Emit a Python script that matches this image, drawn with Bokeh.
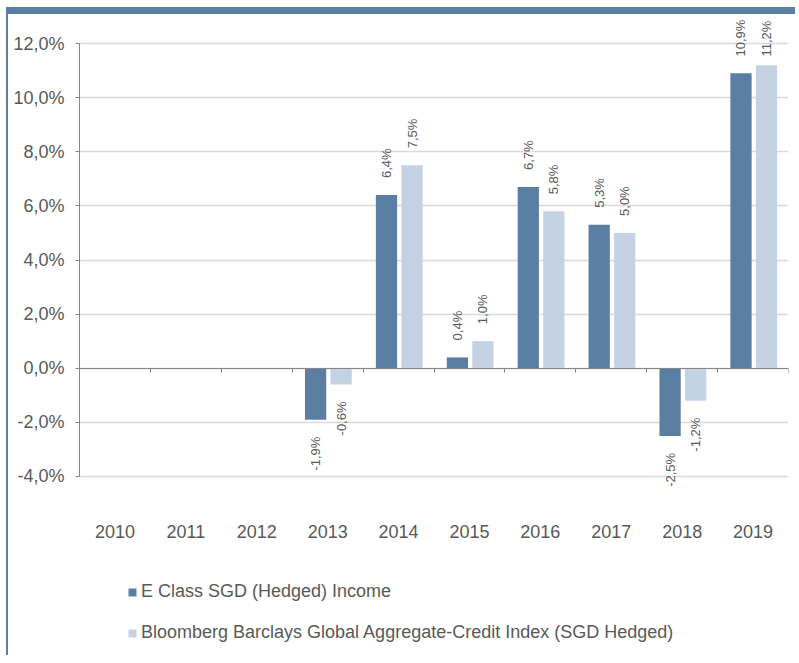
from bokeh.plotting import figure
from bokeh.models import ColumnDataSource, FixedTicker, LinearAxis, Range1d, Legend, LegendItem
from bokeh.transform import dodge
from bokeh.core.properties import value
from bokeh.embed import file_html
from bokeh.resources import INLINE
import math

years = ["2010", "2011", "2012", "2013", "2014", "2015", "2016", "2017", "2018", "2019"]
fund_values = [None, None, None, -1.9, 6.4, 0.4, 6.7, 5.3, -2.5, 10.9]
index_values = [None, None, None, -0.6, 7.5, 1.0, 5.8, 5.0, -1.2, 11.2]
series_names = ["E Class SGD (Hedged) Income",
                "Bloomberg Barclays Global Aggregate-Credit Index (SGD Hedged)"]
y_ticks = [-4, -2, 0, 2, 4, 6, 8, 10, 12]

DARK = "#5b7fa3"
LIGHT = "#c5d2e3"
TEXT = "#595959"
FONT = "Liberation Sans"

def pct(v):
    return f"{v:.1f}%".replace(".", ",")

W, H = 789, 648
TOP_B, BOT_B = 2, 0
PX = 27.057                         # pixels per percentage point
Y1 = 13.0
Y0 = Y1 - (H - TOP_B - BOT_B) / PX

p = figure(width=W, height=H, output_backend="svg", toolbar_location=None,
           x_range=Range1d(-0.5, 9.5), y_range=Range1d(Y0, Y1),
           min_border_left=71, min_border_right=9, min_border_top=TOP_B, min_border_bottom=BOT_B)
p.outline_line_color = None
p.background_fill_color = "white"
p.border_fill_color = "white"
p.styles = {"margin-left": "6px", "margin-top": "7px",
            "border-top": "7px solid #5b7fa3", "border-left": "2px solid #5b7fa3"}

# y axis
ya = p.yaxis[0]
ya.ticker = FixedTicker(ticks=y_ticks)
ya.major_label_overrides = {t: pct(t) for t in y_ticks}
ya.bounds = (-4, 12)
ya.axis_line_color = "#868686"
ya.major_tick_line_color = "#868686"
ya.major_tick_out = 4
ya.major_tick_in = 0
ya.minor_tick_line_color = None
ya.major_label_standoff = 11
ya.major_label_text_font = FONT
ya.major_label_text_font_size = "18px"
ya.major_label_text_color = TEXT
p.ygrid.ticker = FixedTicker(ticks=y_ticks)
p.ygrid.grid_line_color = "#d9d9d9"
p.ygrid.grid_line_width = 1.5
p.xgrid.grid_line_color = None

# x axis at zero with ticks on the category boundaries
bounds_ticks = [i - 0.5 for i in range(len(years) + 1)]
xa = p.xaxis[0]
xa.fixed_location = 0
xa.ticker = FixedTicker(ticks=bounds_ticks)
xa.major_label_overrides = {t: "" for t in bounds_ticks}
xa.bounds = (-0.5, 9.5)
xa.axis_line_color = "#868686"
xa.major_tick_line_color = "#868686"
xa.major_tick_out = 4
xa.major_tick_in = 0
xa.minor_tick_line_color = None
xa.major_label_standoff = 0

# year label axis
la = LinearAxis(fixed_location=-4)
la.ticker = FixedTicker(ticks=list(range(len(years))))
la.major_label_overrides = {i: y for i, y in enumerate(years)}
la.axis_line_color = None
la.major_tick_line_color = None
la.minor_tick_line_color = None
la.major_tick_out = 0
la.major_tick_in = 0
la.major_label_standoff = 49
la.major_label_text_font = FONT
la.major_label_text_font_size = "18px"
la.major_label_text_color = TEXT
p.add_layout(la, "below")

GAP = 17 / PX                      # label distance from bar end
LABEL_LEN = 36 / PX                # approx. rotated label length
LABEL_CAP = Y1 - 4 / PX - LABEL_LEN  # keep labels inside the chart area

renderers = []
for vals, off, color in [(fund_values, -0.17, DARK), (index_values, 0.19, LIGHT)]:
    xs = [i for i, v in enumerate(vals) if v is not None]
    ys = [v for v in vals if v is not None]
    src = ColumnDataSource(dict(x=xs, top=ys))
    r = p.vbar(x=dodge("x", off), top="top", bottom=0, width=0.30, source=src,
               fill_color=color, line_color=None)
    renderers.append(r)
    for sign in (1, -1):
        sx = [x for x, y in zip(xs, ys) if (y >= 0) == (sign > 0)]
        sv = [y for x, y in zip(xs, ys) if (y >= 0) == (sign > 0)]
        if sign > 0:
            sy = [min(v + GAP, LABEL_CAP) for v in sv]
        else:
            sy = [v - GAP for v in sv]
        lsrc = ColumnDataSource(dict(x=sx, y=sy, t=[pct(v) for v in sv]))
        p.text(x=dodge("x", off), y="y", text="t", source=lsrc, angle=math.pi / 2,
               text_align="left" if sign > 0 else "right", text_baseline="middle",
               text_font=value(FONT), text_font_size="13px", text_color=TEXT)

legend = Legend(items=[LegendItem(label=series_names[0], renderers=[renderers[0]]),
                       LegendItem(label=series_names[1], renderers=[renderers[1]])],
                location=(48, 19), orientation="vertical",
                glyph_width=10, glyph_height=10, label_standoff=4, spacing=20,
                padding=0, margin=0, border_line_color=None, background_fill_alpha=0,
                label_text_font=FONT, label_text_font_size="18px", label_text_color=TEXT)
p.add_layout(legend)

open("out.html", "w").write(file_html(p, INLINE))
